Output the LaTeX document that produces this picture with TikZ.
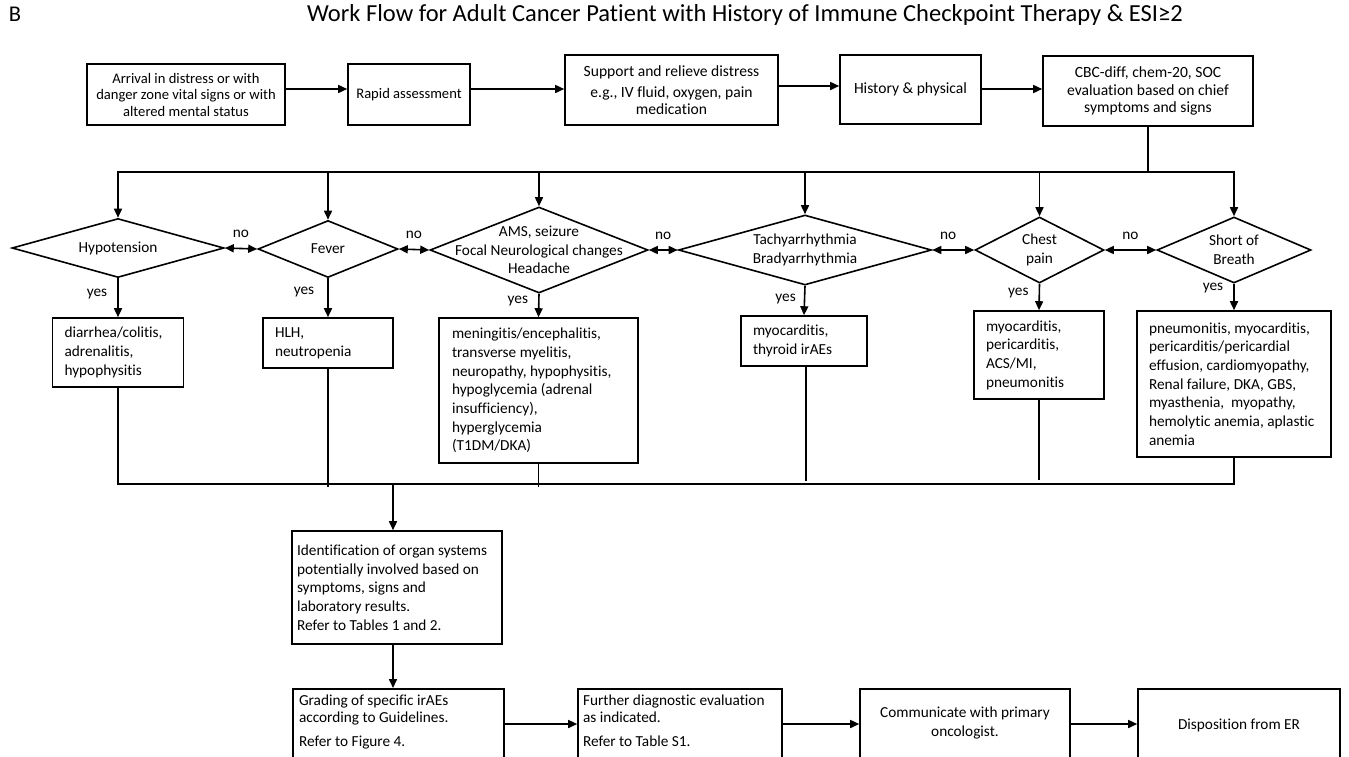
\documentclass[tikz,border=0pt]{standalone}
\usepackage{fontspec}
\setmainfont{Carlito}[Ligatures=NoCommon]
\usetikzlibrary{shapes.geometric,arrows.meta}

% type sizes (1pt = one unit of the canvas)
\newcommand\fbody{\fontsize{15.3}{18.7}\selectfont}
\newcommand\ftop{\fontsize{14.6}{16.5}\selectfont}
\newcommand\ftopb{\fontsize{15.6}{17.2}\selectfont}
\newcommand\fbottom{\fontsize{15.3}{16.7}\selectfont}
\newcommand\ftitle{\fontsize{24.5}{29}\selectfont}
\newcommand\ftag{\fontsize{22.5}{27}\selectfont}

\begin{document}
\begin{tikzpicture}[x=1pt,y=-1pt,
  line width=1.6pt,
  >={Triangle[length=9pt,width=8pt]},
  arr/.style={->},
  dbl/.style={<->},
  box/.style={draw, align=flush center, inner sep=0pt, font=\ftop},
  lbox/.style={draw, align=flush left, inner ysep=0pt, font=\fbody},
  frame/.style={draw, inner sep=0pt, minimum height=90pt, anchor=north},
  ltext/.style={align=flush left, inner sep=0pt, font=\fbottom, anchor=north west},
  ctext/.style={align=flush center, inner sep=0pt, font=\fbottom},
  dia/.style={draw, diamond, inner sep=0pt},
  dtext/.style={font=\fbody, align=flush center, inner sep=0pt},
  lab/.style={font=\fbody, inner sep=0pt},
]
\useasboundingbox (0,0) rectangle (1349,756);
\clip (0,0) rectangle (1349,756);

% heading
\node[anchor=base west, font=\ftag, inner sep=0pt] (tag) at (8,21) {B};
\node[anchor=base, font=\ftitle, inner sep=0pt] (title) at (745,21)
  {Work Flow for Adult Cancer Patient with History of Immune Checkpoint Therapy \& ESI≥2};

% first row
\node[box, minimum width=198pt, minimum height=61pt] (b1) at (186,94.5)
  {Arrival in distress or with\\danger zone vital signs or with\\altered mental status};
\node[box, minimum width=122pt, minimum height=61pt] (b2) at (409,94.5) {Rapid assessment};
\node[box, font=\ftopb, minimum width=213pt, minimum height=70pt] (b3) at (671.5,90)
  {Support and relieve distress\\[4pt]e.g., IV fluid, oxygen, pain\\medication};
\node[box, font=\ftopb, minimum width=141pt, minimum height=69pt] (b4) at (910.5,89.5) {History \& physical};
\node[box, font=\ftopb, minimum width=210pt, minimum height=70pt] (b5) at (1148,91)
  {CBC-diff, chem-20, SOC\\evaluation based on chief\\symptoms and signs};

\draw[arr] (b1.east |- 0,89) -- (b2.west |- 0,89);
\draw[arr] (b2.east |- 0,89) -- (b3.west |- 0,89);
\draw[arr] (b3.east |- 0,86) -- (b4.west |- 0,86);
\draw[arr] (b4.east |- 0,89) -- (b5.west |- 0,89);

% decision diamonds
\node[dia, minimum width=212pt, minimum height=59pt,
  label={[dtext]center:Hypotension}] (d1) at (118,248) {};
\node[dia, minimum width=140pt, minimum height=57pt,
  label={[dtext]center:Fever}] (d2) at (328,249) {};
\node[dia, minimum width=218pt, minimum height=86pt,
  label={[dtext]center:{AMS, seizure\\Focal Neurological changes\\Headache}}] (d3) at (539,250) {};
\node[dia, minimum width=253pt, minimum height=70pt,
  label={[dtext]center:{Tachyarrhythmia\\Bradyarrhythmia}}] (d4) at (805,250) {};
\node[dia, minimum width=129pt, minimum height=66pt,
  label={[dtext]center:{Chest\\pain}}] (d5) at (1039.5,250) {};
\node[dia, minimum width=154pt, minimum height=66pt,
  label={[dtext]center:{Short of\\Breath}}] (d6) at (1234,250) {};

% distribution bus
\coordinate (tb) at (0,172);
\draw (b5.south) -- (b5.south |- tb);
\draw[arr] (d2.north |- tb) -| (d1.north);
\draw (d2.north |- tb) -- (d5.north |- tb);
\draw[arr] (d5.north |- tb) -| (d6.north);
\draw[arr] (d2.north |- tb) -- (d2.north);
\draw[arr] (d3.north |- tb) -- (d3.north);
\draw[arr] (d4.north |- tb) -- (d4.north);
\draw[arr] (d5.north |- tb) -- (d5.north);

% "no" links
\draw[dbl] (d1.east) -- node[lab, above=10pt] {no} (d2.west);
\draw[dbl] (d2.east) -- node[lab, above=10pt] {no} (d3.west);
\draw[dbl] (d3.east) -- node[lab, above=10pt] {no} (d4.west);
\draw[dbl] (d4.east) -- node[lab, above=10pt, xshift=-5pt] {no} (d5.west);
\draw[dbl] (d5.east) -- node[lab, above=10pt] {no} (d6.west);

% findings
\node[lbox, inner xsep=12pt, text width=107pt, minimum height=69pt] (r1) at (118,352.5)
  {diarrhea/colitis,\\adrenalitis,\\hypophysitis};
\node[lbox, inner xsep=12pt, text width=106pt, minimum height=50pt] (r2) at (328,343)
  {HLH,\\neutropenia};
\node[lbox, inner xsep=13pt, text width=173pt, minimum height=145pt] (r3) at (538.5,390.5)
  {meningitis/encephalitis,\\transverse myelitis,\\neuropathy, hypophysitis,\\hypoglycemia (adrenal\\insufficiency),\\hyperglycemia\\(T1DM/DKA)};
\node[lbox, inner xsep=12pt, text width=102pt, minimum height=50pt] (r4) at (804,341)
  {myocarditis,\\thyroid irAEs};
\node[lbox, inner xsep=12pt, text width=106pt, minimum height=88pt] (r5) at (1039,355)
  {myocarditis,\\pericarditis,\\ACS/MI,\\pneumonitis};
\node[lbox, inner xsep=12pt, text width=170pt, minimum height=146pt] (r6) at (1234,384)
  {pneumonitis, myocarditis,\\pericarditis/pericardial\\effusion, cardiomyopathy,\\Renal failure, DKA, GBS,\\myasthenia,\ \ myopathy,\\hemolytic anemia, aplastic\\anemia};

\draw[arr] (d1.south) -- node[lab, left=10pt, pos=.4] {yes} (r1.north);
\draw[arr] (d2.south) -- node[lab, left=13pt, pos=.35] {yes} (r2.north);
\draw[arr] (d3.south) -- node[lab, left=10pt, pos=.3] {yes} (r3.north);
\draw[arr] (d4.south) -- node[lab, left=8pt, pos=.45] {yes} (r4.north);
\draw[arr] (d5.south) -- node[lab, left=10pt, pos=.35] {yes} (r5.north);
\draw[arr] (d6.south) -- node[lab, left=10pt, pos=.15] {yes} (r6.north);

% collecting bus
\coordinate (bb) at (0,484);
\draw (r1.south) |- (r6.south |- bb) -- (r6.south);
\draw (r2.south) -- (r2.south |- 0,487);
\draw (r3.south) -- (r3.south |- 0,487);
\draw (r4.south -| 806,0) -- (806,481);
\draw (r5.south) -- (r5.south |- 0,480);

% work-up
\coordinate (j) at (393,484);
\node[lbox, inner xsep=5pt, text width=200pt, minimum height=113pt] (idb) at (397,587.5)
  {Identification of organ systems\\potentially involved based on\\symptoms, signs and\\laboratory results.\\Refer to Tables 1 and 2.};
\draw[arr] (j) -- (j |- idb.north);

% last row: boxes run on below the lower edge
\node[frame, minimum width=211pt] (g) at (398.5,688) {};
\node[frame, minimum width=204pt] (f) at (680,688) {};
\node[frame, minimum width=210pt] (c) at (965,688) {};
\node[frame, minimum width=202pt] (ds) at (1239,688) {};

\node[ltext] (gt) at ([xshift=6pt,yshift=-6pt]g.north west)
  {Grading of specific irAEs\\according to Guidelines.\\[8pt]Refer to Figure 4.};
\node[ltext] (ft) at ([xshift=5pt,yshift=-6pt]f.north west)
  {Further diagnostic evaluation\\as indicated.\\[8pt]Refer to Table S1.};
\node[ctext] (ct) at ([yshift=-35pt]c.north) {Communicate with primary\\[2pt]oncologist.};
\node[ctext] (dst) at ([yshift=-37pt]ds.north) {Disposition from ER};

\draw[arr] (j |- idb.south) -- (j |- g.north);
\draw[arr] (g.east |- 0,724) -- (f.west |- 0,724);
\draw[arr] (f.east |- 0,724) -- (c.west |- 0,724);
\draw[arr] (c.east |- 0,724) -- (ds.west |- 0,724);
\end{tikzpicture}
\end{document}
